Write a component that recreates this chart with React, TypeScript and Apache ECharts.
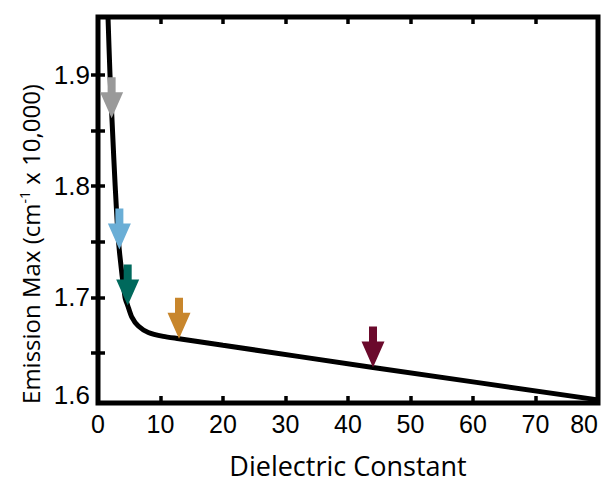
import { useEffect, useRef } from "react";
import * as echarts from "echarts";

// Emission maximum (cm^-1 / 10,000) against solvent dielectric constant
const dielectric = [1.6, 1.92, 2.32, 2.75, 3.3, 4.32, 4.75, 5.39, 6.45, 8.05, 10.45, 12.96, 20, 44, 80];
const emissionMax = [1.952, 1.9, 1.85, 1.8, 1.749, 1.7, 1.6927, 1.6825, 1.6742, 1.6684, 1.6649, 1.6628, 1.6569, 1.637, 1.6078];

// Marked solvents (arrow tips sit on the curve)
const arrowDielectric = [2.18, 3.42, 4.75, 12.96, 44];
const arrowEmission = [1.861, 1.743, 1.6927, 1.6628, 1.637];
const arrowColors = ["#999999", "#6aaed6", "#00695c", "#c8862c", "#6b0a2c"];

// Axis ticks and labels
const xMin = 0;
const xMax = 80;
const xInterval = 10;
const yMin = 1.605;
const yMax = 1.952;
const yTickValues = [1.65, 1.7, 1.75, 1.8, 1.85, 1.9];
const yLabelValues = [1.612, 1.7, 1.8, 1.9];
const yLabelTexts = ["1.6", "1.7", "1.8", "1.9"];

const ARROW_PATH = "path://M7.5,0 L15.5,0 L15.5,15 L23,15 L11.5,41 L0,15 L7.5,15 Z";

export default function App() {
  const ref = useRef<HTMLDivElement>(null);

  useEffect(() => {
    if (!ref.current) return;
    const chart = echarts.init(ref.current, null, { renderer: "svg" });

    const tickStyle = { show: true, inside: true, length: 7, lineStyle: { color: "#000", width: 3.5 } };
    const labelFont = "'Liberation Sans', Arial, sans-serif";
    const titleFont = "'Open Sans', sans-serif";

    const yLabelFor = (v: number) => {
      let best = 0;
      yLabelValues.forEach((lv, i) => {
        if (Math.abs(lv - v) < Math.abs(yLabelValues[best] - v)) best = i;
      });
      return yLabelTexts[best];
    };

    chart.setOption({
      animation: false,
      backgroundColor: "#ffffff",
      grid: {
        left: 98,
        right: 8,
        top: 17,
        bottom: 73,
        show: true,
        borderColor: "#000",
        borderWidth: 5,
        backgroundColor: "transparent",
      },
      xAxis: [
        {
          type: "value",
          position: "bottom",
          min: xMin,
          max: xMax,
          interval: xInterval,
          axisLine: { show: false },
          axisTick: tickStyle,
          splitLine: { show: false },
          axisLabel: {
            color: "#000",
            fontSize: 25,
            fontFamily: labelFont,
            margin: 8,
            alignMaxLabel: "right",
          },
          name: "Dielectric Constant",
          nameLocation: "middle",
          nameGap: 49,
          nameTextStyle: { color: "#000", fontSize: 27, fontFamily: titleFont },
        },
        {
          type: "value",
          position: "top",
          min: xMin,
          max: xMax,
          interval: xInterval,
          axisLine: { show: false },
          axisTick: tickStyle,
          axisLabel: { show: false },
          splitLine: { show: false },
        },
      ],
      yAxis: [
        {
          type: "value",
          position: "left",
          min: yMin,
          max: yMax,
          axisLine: { show: false },
          axisTick: { ...tickStyle, customValues: yTickValues },
          splitLine: { show: false },
          axisLabel: {
            color: "#000",
            fontSize: 26,
            fontFamily: labelFont,
            margin: 8,
            padding: [5, 0, 0, 0],
            customValues: yLabelValues,
            formatter: (v: number) => yLabelFor(v),
          },
        },
        {
          type: "value",
          position: "right",
          min: yMin,
          max: yMax,
          axisLine: { show: false },
          axisTick: { ...tickStyle, customValues: yTickValues },
          axisLabel: { show: false },
          splitLine: { show: false },
        },
      ],
      graphic: [
        {
          type: "text",
          x: 30,
          y: 244,
          rotation: Math.PI / 2,
          style: {
            text: "Emission Max (cm{sup|-1} x 10,000)",
            fill: "#000",
            fontSize: 24,
            fontFamily: titleFont,
            align: "center",
            verticalAlign: "middle",
            rich: {
              sup: {
                fontSize: 14,
                fontFamily: titleFont,
                fill: "#000",
                padding: [0, 0, 12, 0],
              },
            },
          },
        },
      ],
      series: [
        {
          type: "line",
          xAxisIndex: 0,
          yAxisIndex: 0,
          data: dielectric.map((x, i) => [x, emissionMax[i]]),
          showSymbol: false,
          symbol: "none",
          smooth: 0.25,
          clip: true,
          lineStyle: { color: "#000", width: 5 },
          z: 2,
        },
        {
          type: "scatter",
          xAxisIndex: 0,
          yAxisIndex: 0,
          symbol: ARROW_PATH,
          symbolSize: [23, 41],
          symbolOffset: [0, "-50%"],
          data: arrowDielectric.map((x, i) => ({
            value: [x, arrowEmission[i]],
            itemStyle: { color: arrowColors[i], opacity: 1 },
          })),
          z: 3,
        },
      ],
    });

    return () => chart.dispose();
  }, []);

  return (
    <div
      ref={ref}
      style={{ position: "absolute", left: 0, top: 0, width: 606, height: 484 }}
    />
  );
}
